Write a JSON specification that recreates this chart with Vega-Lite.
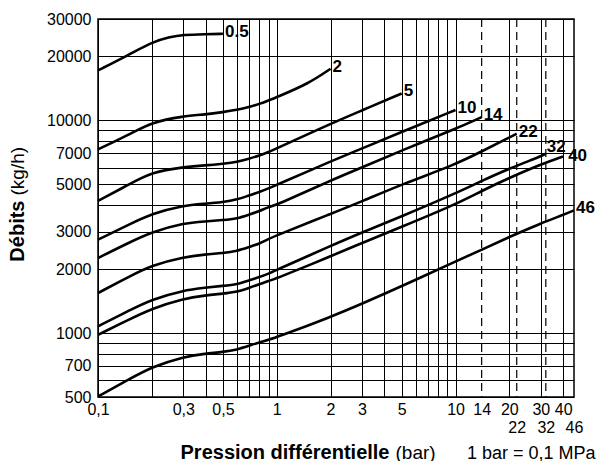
{
  "$schema": "https://vega.github.io/schema/vega-lite/v6.json",
  "width": 476,
  "height": 378,
  "autosize": {"type": "none"},
  "padding": {"left": 98, "top": 19, "right": 23, "bottom": 64},
  "background": "white",
  "config": {
    "font": "Liberation Sans",
    "view": {"stroke": "black", "strokeWidth": 1.5},
    "axis": {
      "ticks": false,
      "tickSize": 0,
      "domain": false,
      "labelFont": "Liberation Sans",
      "labelFontSize": 16,
      "labelColor": "black",
      "titleFont": "Liberation Sans",
      "titleColor": "black",
      "gridColor": "black",
      "gridOpacity": 1,
      "gridWidth": 1,
      "labelFlush": false,
      "labelOverlap": false,
      "labelBound": false
    }
  },
  "datasets": {
    "curves": [
      {"curve": "0.5", "p": 0.1, "q": 17180}, {"curve": "0.5", "p": 0.15, "q": 20430}, {"curve": "0.5", "p": 0.2, "q": 23340}, {"curve": "0.5", "p": 0.25, "q": 24640}, {"curve": "0.5", "p": 0.3, "q": 25290}, {"curve": "0.5", "p": 0.4, "q": 25450}, {"curve": "0.5", "p": 0.5, "q": 25560},
      {"curve": "2", "p": 0.1, "q": 7306}, {"curve": "2", "p": 0.15, "q": 8595}, {"curve": "2", "p": 0.2, "q": 9817}, {"curve": "2", "p": 0.3, "q": 10476}, {"curve": "2", "p": 0.4, "q": 10670}, {"curve": "2", "p": 0.5, "q": 10940}, {"curve": "2", "p": 0.6, "q": 11205}, {"curve": "2", "p": 0.7, "q": 11550}, {"curve": "2", "p": 0.8, "q": 11956}, {"curve": "2", "p": 0.9, "q": 12417}, {"curve": "2", "p": 1, "q": 12870}, {"curve": "2", "p": 1.5, "q": 14875}, {"curve": "2", "p": 2, "q": 17500},
      {"curve": "5", "p": 0.1, "q": 4183}, {"curve": "5", "p": 0.15, "q": 5012}, {"curve": "5", "p": 0.2, "q": 5714}, {"curve": "5", "p": 0.3, "q": 6033}, {"curve": "5", "p": 0.4, "q": 6143}, {"curve": "5", "p": 0.5, "q": 6257}, {"curve": "5", "p": 0.6, "q": 6368}, {"curve": "5", "p": 0.7, "q": 6604}, {"curve": "5", "p": 0.8, "q": 6845}, {"curve": "5", "p": 0.9, "q": 7096}, {"curve": "5", "p": 1, "q": 7385}, {"curve": "5", "p": 2, "q": 9649}, {"curve": "5", "p": 3, "q": 11143}, {"curve": "5", "p": 5, "q": 13395},
      {"curve": "10", "p": 0.1, "q": 2748}, {"curve": "10", "p": 0.15, "q": 3243}, {"curve": "10", "p": 0.2, "q": 3641}, {"curve": "10", "p": 0.3, "q": 3985}, {"curve": "10", "p": 0.4, "q": 4059}, {"curve": "10", "p": 0.5, "q": 4130}, {"curve": "10", "p": 0.6, "q": 4239}, {"curve": "10", "p": 0.7, "q": 4441}, {"curve": "10", "p": 0.8, "q": 4602}, {"curve": "10", "p": 0.9, "q": 4790}, {"curve": "10", "p": 1, "q": 4975}, {"curve": "10", "p": 2, "q": 6417}, {"curve": "10", "p": 3, "q": 7385}, {"curve": "10", "p": 5, "q": 8829}, {"curve": "10", "p": 10, "q": 11205},
      {"curve": "14", "p": 0.1, "q": 2252}, {"curve": "14", "p": 0.15, "q": 2669}, {"curve": "14", "p": 0.2, "q": 2984}, {"curve": "14", "p": 0.3, "q": 3290}, {"curve": "14", "p": 0.4, "q": 3351}, {"curve": "14", "p": 0.5, "q": 3398}, {"curve": "14", "p": 0.6, "q": 3450}, {"curve": "14", "p": 0.7, "q": 3602}, {"curve": "14", "p": 0.8, "q": 3745}, {"curve": "14", "p": 0.9, "q": 3911}, {"curve": "14", "p": 1, "q": 4005}, {"curve": "14", "p": 2, "q": 5222}, {"curve": "14", "p": 3, "q": 6012}, {"curve": "14", "p": 5, "q": 7226}, {"curve": "14", "p": 10, "q": 9120}, {"curve": "14", "p": 14, "q": 10363},
      {"curve": "22", "p": 0.1, "q": 1542}, {"curve": "22", "p": 0.15, "q": 1847}, {"curve": "22", "p": 0.2, "q": 2081}, {"curve": "22", "p": 0.3, "q": 2277}, {"curve": "22", "p": 0.4, "q": 2344}, {"curve": "22", "p": 0.5, "q": 2377}, {"curve": "22", "p": 0.6, "q": 2429}, {"curve": "22", "p": 0.7, "q": 2537}, {"curve": "22", "p": 0.8, "q": 2632}, {"curve": "22", "p": 0.9, "q": 2772}, {"curve": "22", "p": 1, "q": 2879}, {"curve": "22", "p": 2, "q": 3633}, {"curve": "22", "p": 3, "q": 4160}, {"curve": "22", "p": 5, "q": 5000}, {"curve": "22", "p": 10, "q": 6210}, {"curve": "22", "p": 14, "q": 7149}, {"curve": "22", "p": 20, "q": 8320}, {"curve": "22", "p": 22, "q": 8659},
      {"curve": "32", "p": 0.1, "q": 1075}, {"curve": "32", "p": 0.15, "q": 1279}, {"curve": "32", "p": 0.2, "q": 1440}, {"curve": "32", "p": 0.3, "q": 1587}, {"curve": "32", "p": 0.4, "q": 1634}, {"curve": "32", "p": 0.5, "q": 1667}, {"curve": "32", "p": 0.6, "q": 1694}, {"curve": "32", "p": 0.7, "q": 1769}, {"curve": "32", "p": 0.8, "q": 1833}, {"curve": "32", "p": 0.9, "q": 1902}, {"curve": "32", "p": 1, "q": 1982}, {"curve": "32", "p": 2, "q": 2570}, {"curve": "32", "p": 3, "q": 2974}, {"curve": "32", "p": 5, "q": 3537}, {"curve": "32", "p": 10, "q": 4538}, {"curve": "32", "p": 14, "q": 5195}, {"curve": "32", "p": 20, "q": 5947}, {"curve": "32", "p": 30, "q": 6772}, {"curve": "32", "p": 32, "q": 6973},
      {"curve": "40", "p": 0.1, "q": 980}, {"curve": "40", "p": 0.15, "q": 1160}, {"curve": "40", "p": 0.2, "q": 1302}, {"curve": "40", "p": 0.3, "q": 1451}, {"curve": "40", "p": 0.4, "q": 1504}, {"curve": "40", "p": 0.5, "q": 1532}, {"curve": "40", "p": 0.6, "q": 1562}, {"curve": "40", "p": 0.7, "q": 1631}, {"curve": "40", "p": 0.8, "q": 1694}, {"curve": "40", "p": 0.9, "q": 1759}, {"curve": "40", "p": 1, "q": 1807}, {"curve": "40", "p": 2, "q": 2294}, {"curve": "40", "p": 3, "q": 2655}, {"curve": "40", "p": 5, "q": 3157}, {"curve": "40", "p": 10, "q": 4027}, {"curve": "40", "p": 14, "q": 4662}, {"curve": "40", "p": 20, "q": 5367}, {"curve": "40", "p": 30, "q": 6210}, {"curve": "40", "p": 40, "q": 6772},
      {"curve": "46", "p": 0.1, "q": 503}, {"curve": "46", "p": 0.15, "q": 607}, {"curve": "46", "p": 0.2, "q": 692}, {"curve": "46", "p": 0.3, "q": 773}, {"curve": "46", "p": 0.4, "q": 800}, {"curve": "46", "p": 0.5, "q": 814}, {"curve": "46", "p": 0.6, "q": 835}, {"curve": "46", "p": 0.7, "q": 871}, {"curve": "46", "p": 0.8, "q": 904}, {"curve": "46", "p": 0.9, "q": 929}, {"curve": "46", "p": 1, "q": 955}, {"curve": "46", "p": 2, "q": 1189}, {"curve": "46", "p": 3, "q": 1374}, {"curve": "46", "p": 5, "q": 1658}, {"curve": "46", "p": 10, "q": 2174}, {"curve": "46", "p": 14, "q": 2461}, {"curve": "46", "p": 20, "q": 2833}, {"curve": "46", "p": 30, "q": 3279}, {"curve": "46", "p": 40, "q": 3593}, {"curve": "46", "p": 46, "q": 3774}
    ],
    "dashes": [{"p": 14}, {"p": 22}, {"p": 32}]
  },
  "layer": [
    {
      "data": {"name": "dashes"},
      "mark": {"type": "rule", "color": "black", "strokeWidth": 1.2, "strokeDash": [8, 5]},
      "encoding": {
        "x": {
          "field": "p", "type": "quantitative",
          "scale": {"type": "log", "domain": [0.1, 46], "nice": false},
          "axis": {
            "orient": "bottom", "grid": false, "values": [14], "labelPadding": 4,
            "title": "1 bar = 0,1 MPa", "titleFontWeight": "normal", "titleFontSize": 18,
            "titleX": 497, "titleY": 61, "titleAlign": "right", "titleBaseline": "alphabetic"
          }
        }
      }
    },
    {
      "data": {"name": "curves"},
      "mark": {"type": "line", "interpolate": "basis", "color": "black", "strokeWidth": 2.6},
      "encoding": {
        "x": {
          "field": "p", "type": "quantitative",
          "scale": {"type": "log", "domain": [0.1, 46], "nice": false},
          "axis": {
            "orient": "bottom", "grid": true,
            "values": [0.1, 0.2, 0.3, 0.4, 0.5, 0.6, 0.7, 0.8, 0.9, 1, 2, 3, 4, 5, 6, 7, 8, 9, 10, 20, 30, 40],
            "labelExpr": "indexof([0.1, 0.3, 0.5, 1, 2, 3, 5, 10, 20, 30, 40], datum.value) >= 0 ? replace(toString(datum.value), '.', ',') : ''",
            "labelPadding": 4,
            "title": "Pression différentielle", "titleFontWeight": "bold", "titleFontSize": 20,
            "titleX": 291, "titleY": 61, "titleAlign": "right", "titleBaseline": "alphabetic"
          }
        },
        "y": {
          "field": "q", "type": "quantitative",
          "scale": {"type": "log", "domain": [500, 30000], "nice": false},
          "axis": {
            "orient": "left", "grid": true,
            "values": [500, 600, 700, 800, 900, 1000, 2000, 3000, 4000, 5000, 6000, 7000, 8000, 9000, 10000, 20000, 30000],
            "labelExpr": "indexof([500, 700, 1000, 2000, 3000, 5000, 7000, 10000, 20000, 30000], datum.value) >= 0 ? toString(datum.value) : ''",
            "labelPadding": 7,
            "title": "Débits", "titleFontWeight": "bold", "titleFontSize": 20, "titleAngle": 270,
            "titleX": -75, "titleY": 181, "titleAlign": "right", "titleBaseline": "alphabetic"
          }
        },
        "detail": {"field": "curve", "type": "nominal"}
      }
    },
    {
      "data": {"name": "curves"},
      "transform": [
        {"joinaggregate": [{"op": "max", "field": "p", "as": "pmax"}], "groupby": ["curve"]},
        {"filter": "datum.p == datum.pmax && datum.curve != '32' && datum.curve != '40'"}
      ],
      "mark": {"type": "text", "align": "left", "baseline": "middle", "dx": 2, "dy": -2, "fontWeight": "bold", "fontSize": 17, "color": "black"},
      "encoding": {
        "x": {
          "field": "p", "type": "quantitative",
          "scale": {"type": "log", "domain": [0.1, 46], "nice": false},
          "axis": {
            "orient": "bottom", "grid": false, "values": [22, 32, 46],
            "labelPadding": 22,
            "title": "(bar)", "titleFontWeight": "normal", "titleFontSize": 19,
            "titleX": 297, "titleY": 61, "titleAlign": "left", "titleBaseline": "alphabetic"
          }
        },
        "y": {
          "field": "q", "type": "quantitative",
          "scale": {"type": "log", "domain": [500, 30000], "nice": false},
          "axis": {
            "orient": "left", "grid": false, "labels": false,
            "title": "(kg/h)", "titleFontWeight": "normal", "titleFontSize": 19, "titleAngle": 270,
            "titleX": -75, "titleY": 176, "titleAlign": "left", "titleBaseline": "alphabetic"
          }
        },
        "text": {"field": "curve"}
      }
    },
    {
      "data": {"name": "curves"},
      "transform": [
        {"joinaggregate": [{"op": "max", "field": "p", "as": "pmax"}], "groupby": ["curve"]},
        {"filter": "datum.p == datum.pmax && datum.curve == '32'"}
      ],
      "mark": {"type": "text", "align": "left", "baseline": "middle", "dx": 1, "dy": -7, "fontWeight": "bold", "fontSize": 17, "color": "black"},
      "encoding": {
        "x": {"field": "p", "type": "quantitative", "scale": {"type": "log", "domain": [0.1, 46], "nice": false}, "axis": null},
        "y": {"field": "q", "type": "quantitative", "scale": {"type": "log", "domain": [500, 30000], "nice": false}, "axis": null},
        "text": {"field": "curve"}
      }
    },
    {
      "data": {"name": "curves"},
      "transform": [
        {"joinaggregate": [{"op": "max", "field": "p", "as": "pmax"}], "groupby": ["curve"]},
        {"filter": "datum.p == datum.pmax && datum.curve == '40'"}
      ],
      "mark": {"type": "text", "align": "left", "baseline": "middle", "dx": 5, "dy": 0, "fontWeight": "bold", "fontSize": 17, "color": "black"},
      "encoding": {
        "x": {"field": "p", "type": "quantitative", "scale": {"type": "log", "domain": [0.1, 46], "nice": false}, "axis": null},
        "y": {"field": "q", "type": "quantitative", "scale": {"type": "log", "domain": [500, 30000], "nice": false}, "axis": null},
        "text": {"field": "curve"}
      }
    }
  ],
  "resolve": {"axis": {"x": "independent", "y": "independent"}}
}
